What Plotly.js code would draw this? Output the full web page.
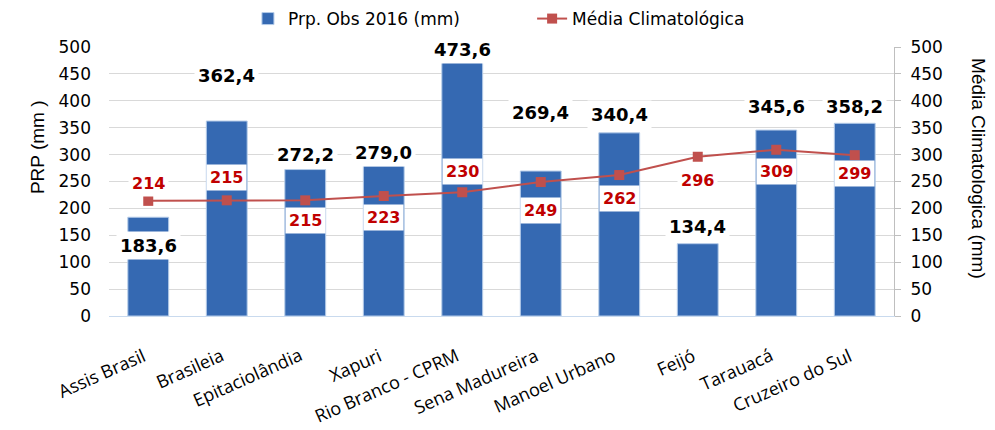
<!DOCTYPE html>
<html><head><meta charset="utf-8">
<script src="https://cdn.plot.ly/plotly-3.0.1.min.js"></script>
<style>html,body{margin:0;padding:0;background:#fff}</style>
</head><body>
<div id="chart" style="width:995px;height:430px"></div>
<script>
const categories = ["Assis Brasil","Brasileia","Epitaciolândia","Xapuri","Rio Branco - CPRM","Sena Madureira","Manoel Urbano","Feijó","Tarauacá","Cruzeiro do Sul"];
const obs2016 = [183.6, 362.4, 272.2, 279.0, 473.6, 269.4, 340.4, 134.4, 345.6, 358.2];
const mediaClim = [214, 215, 215, 223, 230, 249, 262, 296, 309, 299];
const yTicks = [0,50,100,150,200,250,300,350,400,450,500];

// label pixel offsets (style only)
const barLabelShift = [-28, 46, 15, 13, 12, 59, 18, 17, 24, 17];
const lineLabelShift = [17, 23, -20, -21, 21, -28, -23, -24, -22, -18];

const fmt = v => v.toFixed(1).replace('.', ',');

const traces = [
  {
    type: 'bar', name: 'Prp. Obs 2016 (mm)', x: categories, y: obs2016,
    marker: {color: '#3569B2', line: {color: '#B4CBE8', width: 1}},
    legend: 'legend', hoverinfo: 'skip'
  },
  {
    type: 'scatter', mode: 'lines+markers', name: 'Média Climatológica',
    x: categories, y: mediaClim, yaxis: 'y2',
    line: {color: '#C0504D', width: 2},
    marker: {symbol: 'square', size: 10, color: '#C0504D'},
    legend: 'legend2', hoverinfo: 'skip'
  }
];

const titleFont = {family: 'Liberation Sans, Arial, sans-serif', size: 19, color: '#000'};
const annotations = [];
categories.forEach((c, i) => {
  annotations.push({
    x: i, y: obs2016[i], xref: 'x', yref: 'y', yanchor: 'middle',
    yshift: barLabelShift[i], text: '<b>' + fmt(obs2016[i]) + '</b>', showarrow: false,
    bgcolor: '#ffffff', borderpad: 3,
    font: {family: 'DejaVu Sans, Verdana, sans-serif', size: 18, color: '#000000'}
  });
  annotations.push({
    x: i, y: mediaClim[i], xref: 'x', yref: 'y2', yanchor: 'middle',
    yshift: lineLabelShift[i], text: '<b>' + mediaClim[i] + '</b>', showarrow: false,
    bgcolor: '#ffffff', borderpad: 3,
    font: {family: 'DejaVu Sans, Verdana, sans-serif', size: 16, color: '#C00000'}
  });
  // category tick label (Excel-style: rotated box's top-right corner at the tick)
  annotations.push({
    x: i, xref: 'x', y: 0, yref: 'paper', xanchor: 'right', yanchor: 'top',
    xshift: 3, yshift: -24, textangle: -24, text: c, showarrow: false,
    font: {family: 'Open Sans, sans-serif', size: 18, color: '#000'}
  });
});
annotations.push({
  xref: 'paper', yref: 'paper', x: 0, y: 0.628, xshift: -72, xanchor: 'center', yanchor: 'middle',
  textangle: -90, text: 'PRP (mm )', showarrow: false, font: titleFont
});
annotations.push({
  xref: 'paper', yref: 'paper', x: 1, y: 0.55, xshift: 85, xanchor: 'center', yanchor: 'middle',
  textangle: 90, text: 'Média Climatologica (mm)', showarrow: false, font: titleFont
});

const legendFont = {family: 'DejaVu Sans, Verdana, sans-serif', size: 17, color: '#000'};
const layout = {
  width: 995, height: 430,
  margin: {l: 109, r: 101, t: 47, b: 114, autoexpand: false},
  paper_bgcolor: '#fff', plot_bgcolor: '#fff',
  bargap: 0.48,
  showlegend: true,
  legend: {orientation: 'h', x: 0.177, xanchor: 'left', y: 1.104, yanchor: 'middle', font: legendFont},
  legend2: {orientation: 'h', x: 0.539, xanchor: 'left', y: 1.104, yanchor: 'middle', font: legendFont},
  xaxis: {
    type: 'category', range: [-0.5, categories.length - 0.5], showticklabels: false,
    showgrid: false, showline: true, automargin: false,
    linecolor: '#C9DAEE', linewidth: 1, ticks: ''
  },
  yaxis: {
    range: [0, 500], tickvals: yTicks, showgrid: true, gridcolor: '#D9D9D9',
    zeroline: false, showline: false, ticks: '', automargin: false,
    tickfont: {family: 'DejaVu Sans, Verdana, sans-serif', size: 17, color: '#000'},
    ticklabelstandoff: 17
  },
  yaxis2: {
    range: [0, 500], tickvals: yTicks, overlaying: 'y', side: 'right', automargin: false,
    showgrid: false, zeroline: false, showline: true, linecolor: '#BFBFBF',
    ticks: 'outside', ticklen: 6, tickcolor: '#BFBFBF', ticklabelstandoff: 6,
    tickfont: {family: 'DejaVu Sans, Verdana, sans-serif', size: 17, color: '#000'}
  },
  annotations: annotations
};

Plotly.newPlot('chart', traces, layout, {displayModeBar: false, staticPlot: true});
</script>
</body></html>
